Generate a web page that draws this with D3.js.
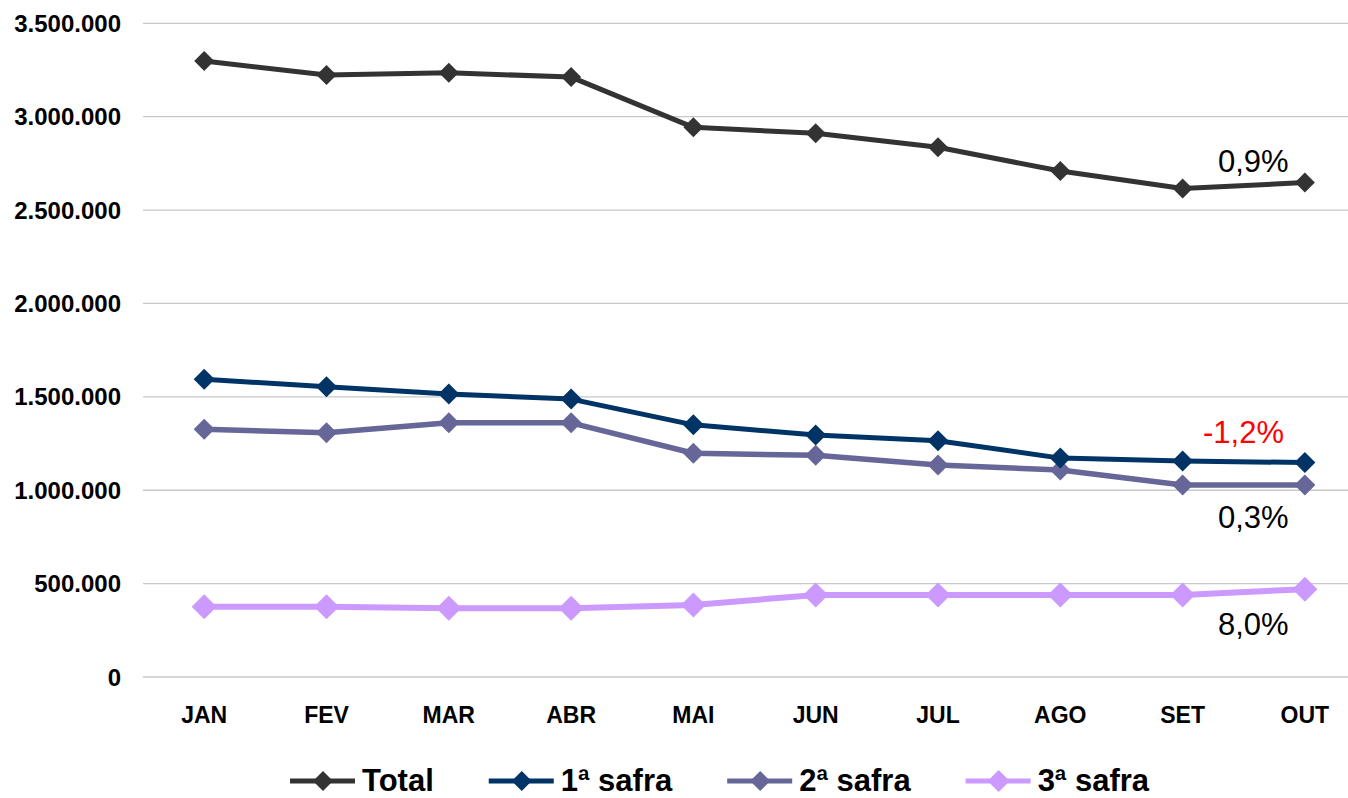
<!DOCTYPE html>
<html>
<head>
<meta charset="utf-8">
<script src="https://cdn.jsdelivr.net/npm/d3@7"></script>
<style>
  html, body { margin: 0; padding: 0; background: #fff; }
  svg { display: block; font-family: "Liberation Sans", Arial, sans-serif; }
</style>
</head>
<body>
<svg id="chart" width="1348" height="798"></svg>
<script>
const months = ["JAN","FEV","MAR","ABR","MAI","JUN","JUL","AGO","SET","OUT"];
const total   = [3298000, 3223000, 3235000, 3212000, 2943000, 2911000, 2836000, 2709000, 2616000, 2647000];
const safra1  = [1594000, 1554000, 1515000, 1488000, 1350000, 1296000, 1265000, 1172000, 1157000, 1148000];
const safra2  = [1326000, 1308000, 1361000, 1361000, 1198000, 1187000, 1135000, 1108000, 1028000, 1028000];
const safra3  = [376000, 376000, 368000, 368000, 386000, 439000, 439000, 439000, 439000, 470000];
const seriesNames = ["Total", "1ª safra", "2ª safra", "3ª safra"];
const seriesColors = ["#333333", "#003366", "#666699", "#CC99FF"];
const yTicks = [0, 500000, 1000000, 1500000, 2000000, 2500000, 3000000, 3500000];
const annotations = [
  {text: "0,9%", series: 0, color: "#000000"},
  {text: "-1,2%", series: 1, color: "#FF0000"},
  {text: "0,3%", series: 2, color: "#000000"},
  {text: "8,0%", series: 3, color: "#000000"}
];

const seriesData = [total, safra1, safra2, safra3];
const lineWidths = [5, 5, 5.5, 6];
const markerR = [10, 10.5, 10.5, 12.5];

const svg = d3.select("#chart");
const W = 1348;

const x = d3.scalePoint().domain(months).range([204.2, 1304.9]);
const y = d3.scaleLinear().domain([0, 3500000]).range([677, 23.3]);

const fmt = v => d3.format(",")(v).replace(/,/g, ".");

// gridlines
svg.append("g").selectAll("line").data(yTicks).join("line")
  .attr("x1", 143).attr("x2", W)
  .attr("y1", d => y(d)).attr("y2", d => y(d))
  .attr("stroke", "#c8c8c8").attr("stroke-width", 1.3);

// y labels
svg.append("g").selectAll("text").data(yTicks).join("text")
  .attr("x", 121).attr("y", d => y(d)).attr("dy", "0.36em")
  .attr("text-anchor", "end")
  .attr("font-weight", "bold").attr("font-size", 24).attr("fill", "#000")
  .text(d => fmt(d));

// x labels
svg.append("g").selectAll("text").data(months).join("text")
  .attr("x", d => x(d)).attr("y", 723)
  .attr("text-anchor", "middle")
  .attr("font-weight", "bold").attr("font-size", 23).attr("fill", "#000")
  .text(d => d);

const diamond = r => `M0,${-r}L${r},0L0,${r}L${-r},0Z`;

const line = d3.line().x((d, i) => x(months[i])).y(d => y(d));

const order = [3, 2, 1, 0];
order.forEach(si => {
  const g = svg.append("g");
  g.append("path").datum(seriesData[si])
    .attr("d", line)
    .attr("fill", "none")
    .attr("stroke", seriesColors[si])
    .attr("stroke-width", lineWidths[si])
    .attr("stroke-linejoin", "round");
  g.selectAll("path.m").data(seriesData[si]).join("path")
    .attr("class", "m")
    .attr("transform", (d, i) => `translate(${x(months[i])},${y(d)})`)
    .attr("d", diamond(markerR[si]))
    .attr("fill", seriesColors[si]);
});

// annotations
const annPos = [
  {x: 1218, y: 172},
  {x: 1203, y: 443},
  {x: 1218, y: 528},
  {x: 1218, y: 635}
];
svg.append("g").selectAll("text").data(annotations).join("text")
  .attr("x", (d, i) => annPos[i].x).attr("y", (d, i) => annPos[i].y)
  .attr("font-size", 31).attr("fill", d => d.color)
  .text(d => d.text);

// legend
const leg = svg.append("g");
let lx = 290;
const ly = 781;
seriesNames.forEach((name, i) => {
  const g = leg.append("g");
  g.append("line").attr("x1", lx).attr("x2", lx + 65).attr("y1", ly).attr("y2", ly)
    .attr("stroke", seriesColors[i]).attr("stroke-width", 5);
  g.append("path").attr("transform", `translate(${lx + 33},${ly})`)
    .attr("d", diamond(i === 3 ? 11 : 10)).attr("fill", seriesColors[i]);
  const t = g.append("text").attr("x", lx + 72).attr("y", 791)
    .attr("font-weight", "bold").attr("font-size", 31).attr("fill", "#000")
    .text(name);
  const w = t.node().getComputedTextLength();
  lx = lx + 72 + w + 55;
});
</script>
</body>
</html>
